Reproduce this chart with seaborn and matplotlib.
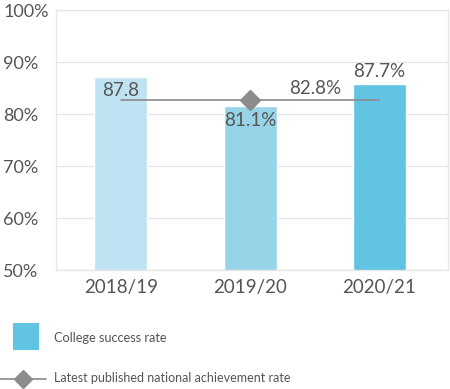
import matplotlib
matplotlib.use("Agg")
import matplotlib.pyplot as plt
import seaborn as sns
import pandas as pd
from matplotlib.patches import Rectangle
from matplotlib.lines import Line2D

categories = ["2018/19", "2019/20", "2020/21"]
college_rate = [87.2, 81.6, 85.8]
bar_labels = ["87.8", "81.1%", "87.7%"]
national_rate = [82.8, 82.8, 82.8]
national_label = "82.8%"
yticks = [50, 60, 70, 80, 90, 100]
ytick_labels = ["50%", "60%", "70%", "80%", "90%", "100%"]
bar_colors = ["#BFE3F2", "#98D4E8", "#62C4E3"]

sns.set_style("white")
plt.rcParams["font.family"] = ["Lato", "DejaVu Sans"]
text_color = "#555555"

fig = plt.figure(figsize=(4.5, 3.89), dpi=100)
ax = fig.add_axes([56/450, 1-270.3/389, (448-56)/450, (270.3-10.3)/389])

df = pd.DataFrame({"cat": categories, "val": college_rate})
sns.barplot(data=df, x="cat", y="val", hue="cat", palette=bar_colors,
            width=0.41, legend=False, ax=ax, saturation=1)

ax.plot(range(len(categories)), national_rate, color="#8a8a8a", lw=1.2,
        marker="D", markevery=[1], markersize=10, markerfacecolor="#8c8c8c",
        markeredgecolor="#8c8c8c", zorder=3)

ax.set_ylim(50, 100)
ax.set_xlim(-0.5, 2.53)
ax.set_yticks(yticks)
ax.set_yticklabels(ytick_labels)
ax.set_xlabel("")
ax.set_ylabel("")
ax.yaxis.grid(True, color="#e6e6e6", lw=1)
ax.set_axisbelow(True)
for s in ax.spines.values():
    s.set_visible(True)
    s.set_color("#e6e6e6")
    s.set_linewidth(1)
ax.tick_params(axis="y", labelsize=13, colors=text_color, length=0, pad=38)
for t in ax.get_yticklabels():
    t.set_horizontalalignment("left")
ax.tick_params(axis="x", labelsize=13.5, colors=text_color, length=0, pad=6)

lbl_fs = 13.5
ax.annotate(bar_labels[0], (0, college_rate[0]), xytext=(0, -4), textcoords="offset points",
            ha="center", va="top", fontsize=lbl_fs, color=text_color)
ax.annotate(bar_labels[1], (1, college_rate[1]), xytext=(0, -4), textcoords="offset points",
            ha="center", va="top", fontsize=lbl_fs, color=text_color)
ax.annotate(bar_labels[2], (2, college_rate[2]), xytext=(0, 3), textcoords="offset points",
            ha="center", va="bottom", fontsize=lbl_fs, color=text_color)
ax.annotate(national_label, (1.5, national_rate[1]), xytext=(0, 2), textcoords="offset points",
            ha="center", va="bottom", fontsize=lbl_fs, color=text_color)

# legend
fig.add_artist(Rectangle((12.7/450, 1-350/389), 26.5/450, 27/389, transform=fig.transFigure,
                         facecolor="#62C4E3", edgecolor="none"))
fig.text(54/450, 1-337.5/389, "College success rate", fontsize=9.2, color=text_color,
         va="center", ha="left")
fig.add_artist(Line2D([0, 46/450], [1-379/389, 1-379/389], transform=fig.transFigure,
                      color="#8a8a8a", lw=1.2))
fig.add_artist(Line2D([23/450], [1-379/389], transform=fig.transFigure, marker="D",
                      markersize=9, color="#8c8c8c", lw=0))
fig.text(54/450, 1-378.5/389, "Latest published national achievement rate", fontsize=9,
         color=text_color, va="center", ha="left")

fig.savefig("out.png", dpi=100)
